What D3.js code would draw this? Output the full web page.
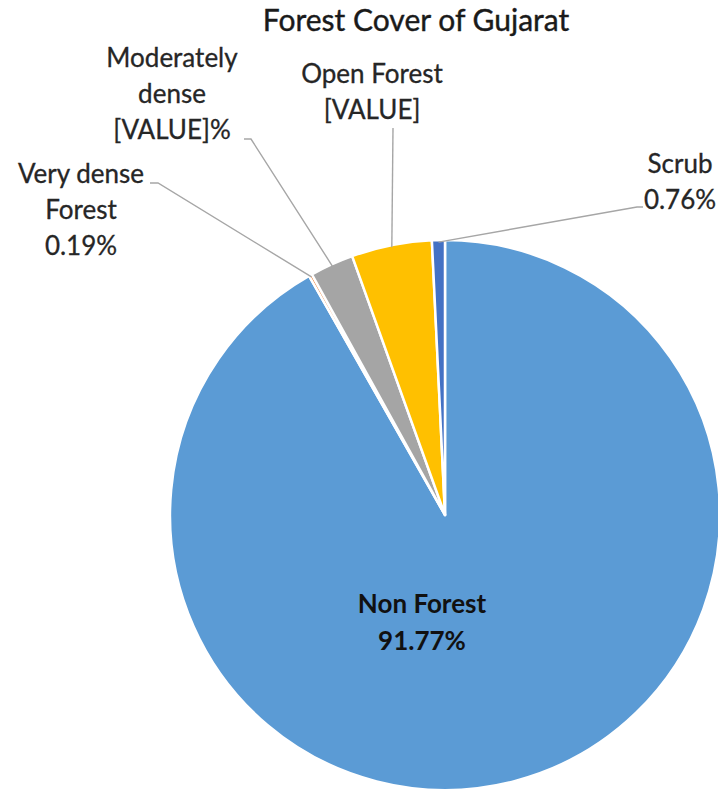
<!DOCTYPE html>
<html>
<head>
<meta charset="utf-8">
<script src="https://cdn.jsdelivr.net/npm/d3@7"></script>
<style>
  html, body { margin: 0; padding: 0; background: #fff; }
  svg { display: block; }
</style>
</head>
<body>
<div id="chart"></div>
<script>
// ---- data ----
const title = "Forest Cover of Gujarat";
const categories = ["Non Forest", "Very dense Forest", "Moderately dense", "Open Forest", "Scrub"];
const values = [91.77, 0.19, 2.56, 4.72, 0.76];
const labelTexts = [
  ["Non Forest", "91.77%"],
  ["Very dense", "Forest", "0.19%"],
  ["Moderately", "dense", "[VALUE]%"],
  ["Open Forest", "[VALUE]"],
  ["Scrub", "0.76%"]
];
const colors = ["#5B9BD5", "#ED7D31", "#A5A5A5", "#FFC000", "#4472C4"];

// ---- layout ----
const W = 718, H = 797;
const cx = 445, cy = 515, R = 275;
const lineH = 36;
const labelLayout = [
  { x: 422, y: 613, inside: true },
  { x: 81,  y: 183, elbow: [158, 183], stub: [150, 183] },
  { x: 172, y: 67,  elbow: [251, 139], stub: [244, 139] },
  { x: 372, y: 83,  elbow: [393, 128], stub: null },
  { x: 680, y: 173, elbow: [637, 207], stub: [643, 207] }
];

const svg = d3.select("#chart").append("svg")
  .attr("width", W).attr("height", H);

svg.append("text")
  .attr("x", 416).attr("y", 31)
  .attr("text-anchor", "middle")
  .attr("font-family", "Lato, 'Open Sans', sans-serif")
  .attr("font-size", 30)
  .attr("fill", "#1a1a1a")
  .attr("stroke", "#1a1a1a")
  .attr("stroke-width", 0.4)
  .text(title);

const data = categories.map((c, i) => ({ name: c, value: values[i], i }));
const pie = d3.pie().sort(null).value(d => d.value).startAngle(0).endAngle(2 * Math.PI);
const arcs = pie(data);
const arc = d3.arc().innerRadius(0).outerRadius(R);

const g = svg.append("g").attr("transform", `translate(${cx},${cy})`);

// leader lines
const lines = svg.append("g");
arcs.forEach((a, i) => {
  const L = labelLayout[i];
  if (L.inside) return;
  const mid = (a.startAngle + a.endAngle) / 2;
  const px = cx + (R - 2) * Math.sin(mid);
  const py = cy - (R - 2) * Math.cos(mid);
  const pts = [[px, py], L.elbow];
  if (L.stub) pts.push(L.stub);
  lines.append("path")
    .attr("d", d3.line()(pts))
    .attr("fill", "none")
    .attr("stroke", "#A6A6A6")
    .attr("stroke-width", 1.4);
});

g.selectAll("path.slice")
  .data(arcs)
  .join("path")
  .attr("class", "slice")
  .attr("d", arc)
  .attr("fill", (d, i) => colors[i])
  .attr("stroke", "#fff")
  .attr("stroke-width", 2.5)
  .attr("stroke-linejoin", "round");

// labels
arcs.forEach((a, i) => {
  const L = labelLayout[i];
  const t = svg.append("text")
    .attr("text-anchor", "middle")
    .attr("font-family", "Lato, 'Open Sans', sans-serif")
    .attr("font-size", 26)
    .attr("font-weight", L.inside ? 700 : 400)
    .attr("fill", L.inside ? "#111" : "#262626")
    .attr("stroke", L.inside ? "none" : "#262626")
    .attr("stroke-width", L.inside ? 0 : 0.3);
  labelTexts[i].forEach((s, k) => {
    t.append("tspan")
      .attr("x", L.x)
      .attr("y", L.y + k * (L.inside ? 37 : lineH))
      .text(s);
  });
});
</script>
</body>
</html>
